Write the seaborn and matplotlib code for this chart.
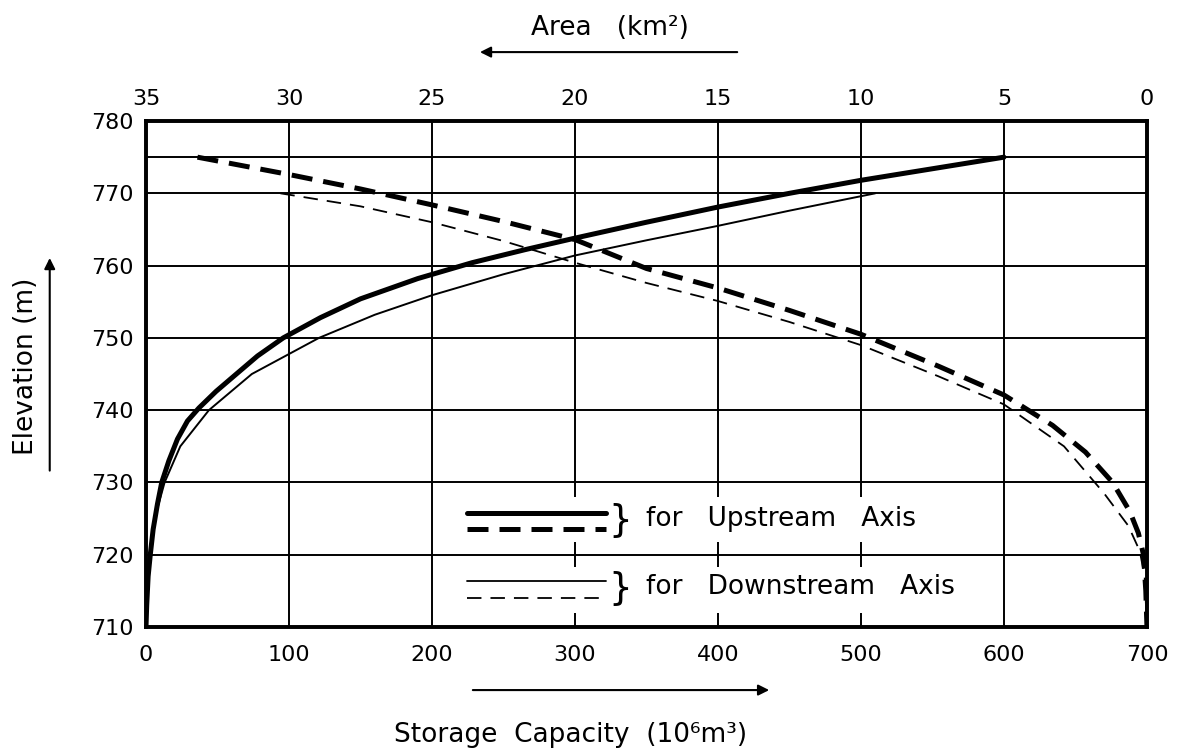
import matplotlib
matplotlib.use("Agg")
import matplotlib.pyplot as plt
import seaborn as sns
from matplotlib.patches import Rectangle
from matplotlib.ticker import FixedLocator

# Storage capacity curves (10^6 m3 vs elevation m)
up_storage = [0, 0.5, 1.5, 3, 5, 8, 11, 16, 22, 29, 37, 49, 62, 78, 96,
              122, 150, 190, 228, 265, 300, 350, 400, 450, 500, 550, 600]
up_storage_elev = [710, 713, 717, 720, 723.5, 727, 730, 733, 736, 738.5, 740.3,
                   742.6, 744.8, 747.5, 750, 752.8, 755.4, 758.2, 760.4, 762.2,
                   763.8, 766, 768.1, 770, 771.8, 773.4, 775]

down_storage = [0, 1, 2.5, 6, 13, 24, 44, 74, 121, 160, 200, 250, 300, 350,
                400, 450, 500, 510]
down_storage_elev = [710, 715, 720, 725, 730, 735, 740, 745, 750, 753.2, 755.9,
                     758.8, 761.4, 763.5, 765.5, 767.6, 769.6, 770]

# Area curves (km2 vs elevation m)
up_area = [33.2, 30, 27.5, 25, 22.5, 20, 17.5, 15, 12.5, 10, 7.3, 5, 3.3,
           2.15, 1.2, 0.6, 0.3, 0.12, 0.04, 0]
up_area_elev = [775, 772.6, 770.6, 768.4, 766.1, 763.6, 759.6, 756.9, 753.8,
                750.5, 746.1, 742.1, 737.9, 734.2, 730, 726, 723, 720, 715, 710]

down_area = [30.3, 27.5, 25, 22.5, 20, 17.5, 15, 12.5, 10, 7.3, 5, 2.9, 1.5,
             0.65, 0.25, 0.08, 0]
down_area_elev = [770, 768.2, 766, 763.4, 760.4, 757.6, 755.1, 752.2, 749,
                  744.7, 740.8, 735, 728.5, 724, 720.5, 717, 710]

storage_ticks = list(range(0, 701, 100))
area_ticks = list(range(35, -1, -5))
elev_ticks = list(range(710, 781, 10))
extra_elev_grid = [775]

sns.set_theme(style="white")
plt.rcParams['font.family'] = ['DejaVu Sans']
plt.rcParams['text.color'] = 'black'

fig = plt.figure(figsize=(11.84, 7.55), dpi=100)
ax = fig.add_axes([0.1233, 0.1695, 0.8454, 0.6702])

sns.lineplot(x=up_storage, y=up_storage_elev, sort=False, estimator=None,
             color='black', lw=3.6, ax=ax)
sns.lineplot(x=down_storage, y=down_storage_elev, sort=False, estimator=None,
             color='black', lw=1.4, ax=ax)

ax.set_xlim(0, 700)
ax.set_ylim(710, 780)
ax.set_xticks(storage_ticks)
ax.set_yticks(elev_ticks)
ax.yaxis.set_minor_locator(FixedLocator(extra_elev_grid))
ax.set_axisbelow(True)
ax.grid(True, which='major', color='black', lw=1.4)
ax.grid(True, which='minor', axis='y', color='black', lw=1.4)
ax.tick_params(which='both', length=0, labelsize=16, colors='black')
ax.tick_params(axis='x', pad=13)
ax.tick_params(axis='y', pad=9)
ax.set_xlabel('')
ax.set_ylabel('')

ax2 = ax.twiny()
sns.lineplot(x=up_area, y=up_area_elev, sort=False, estimator=None,
             color='black', lw=3.6, linestyle=(0, (4.2, 2.2)), ax=ax2)
sns.lineplot(x=down_area, y=down_area_elev, sort=False, estimator=None,
             color='black', lw=1.3, linestyle=(0, (8, 5)), ax=ax2)
ax2.set_xlim(35, 0)
ax2.set_xticks(area_ticks)
ax2.set_xticklabels([str(t) for t in area_ticks])
ax2.grid(False)
ax2.tick_params(axis='x', length=0, pad=9, labelsize=16, colors='black')
ax2.set_xlabel('')
ax2.set_ylabel('')

for a in (ax, ax2):
    for sp in a.spines.values():
        sp.set_color('black')
        sp.set_linewidth(2.6)

# legend block (white panels behind, sample lines, braces and text)
for y0, h in [(0.169, 0.088), (0.027, 0.092)]:
    ax.add_patch(Rectangle((0.314, y0), 0.53, h, transform=ax.transAxes,
                           facecolor='white', edgecolor='none', zorder=1.5))

ax2.plot([0.321, 0.46], [0.225, 0.225], transform=ax.transAxes,
         color='black', lw=3.6)
ax2.plot([0.321, 0.46], [0.194, 0.194], transform=ax.transAxes,
         color='black', lw=3.6, linestyle=(0, (4.2, 2.2)))
ax2.plot([0.321, 0.46], [0.091, 0.091], transform=ax.transAxes,
         color='black', lw=1.3)
ax2.plot([0.321, 0.46], [0.057, 0.057], transform=ax.transAxes,
         color='black', lw=1.3, linestyle=(0, (8, 5)))
for yb, label in [(0.209, 'for   Upstream   Axis'),
                  (0.075, 'for   Downstream   Axis')]:
    ax2.text(0.462, yb, '}', transform=ax.transAxes, fontsize=27,
             ha='left', va='center', color='black')
    ax2.text(0.5, yb + 0.004, label, transform=ax.transAxes, fontsize=19,
             ha='left', va='center', color='black')

# axis titles with direction arrows
fig.text(0.482, 0.026, 'Storage  Capacity  (10\u2076m\u00b3)', fontsize=19,
         ha='center', va='center', color='black')
ax.annotate('', xy=(0.652, 0.086), xytext=(0.397, 0.086),
            xycoords='figure fraction', textcoords='figure fraction',
            arrowprops=dict(arrowstyle='-|>', color='black', lw=1.5,
                            mutation_scale=16), annotation_clip=False)

fig.text(0.515, 0.963, 'Area   (km\u00b2)', fontsize=19, ha='center',
         va='center', color='black')
ax.annotate('', xy=(0.403, 0.931), xytext=(0.625, 0.931),
            xycoords='figure fraction', textcoords='figure fraction',
            arrowprops=dict(arrowstyle='-|>', color='black', lw=1.5,
                            mutation_scale=16), annotation_clip=False)

fig.text(0.022, 0.515, 'Elevation (m)', fontsize=19, rotation=90,
         ha='center', va='center', color='black')
ax.annotate('', xy=(0.042, 0.662), xytext=(0.042, 0.373),
            xycoords='figure fraction', textcoords='figure fraction',
            arrowprops=dict(arrowstyle='-|>', color='black', lw=1.5,
                            mutation_scale=16), annotation_clip=False)

fig.savefig('out.png', dpi=100, facecolor='white')
